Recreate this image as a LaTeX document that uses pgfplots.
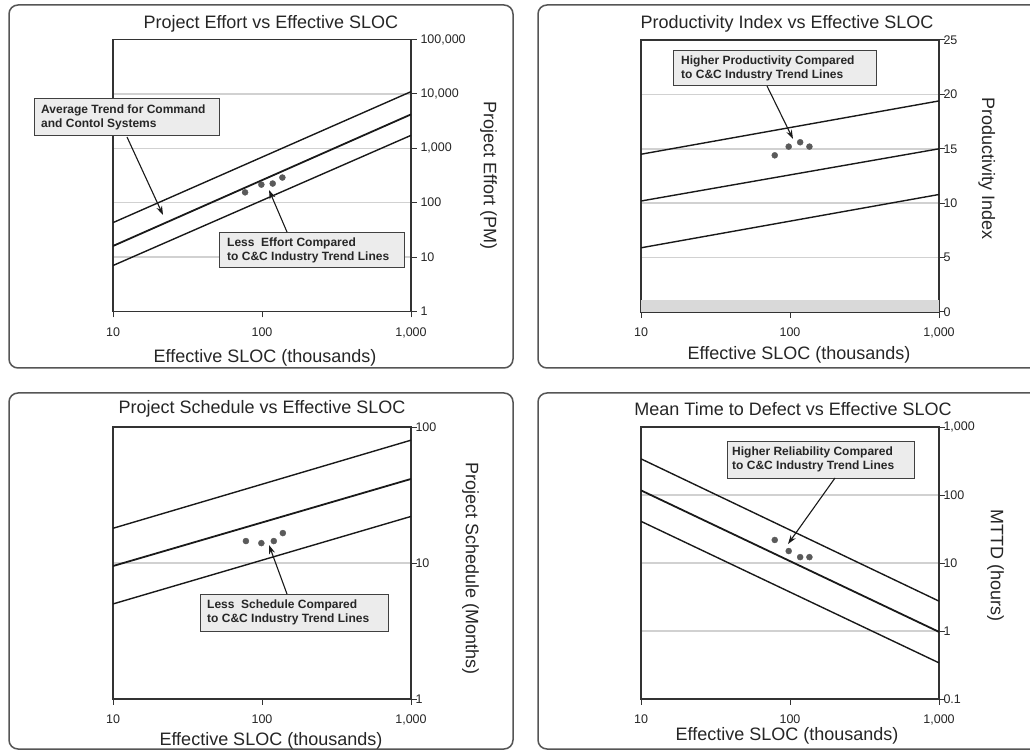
\documentclass[border=0pt]{standalone}
\usepackage{fontspec}
\setmainfont{Liberation Sans}
\usepackage{pgfplots}
\pgfplotsset{compat=1.18}
\usetikzlibrary{arrows.meta}
\definecolor{frame}{HTML}{555555}
\definecolor{boxfill}{HTML}{ECECEC}
\definecolor{dotc}{HTML}{5A5A5A}
\pgfplotsset{
  mypanel/.style={
    scale only axis, width=298pt, height=272pt, anchor=south west,
    xmin=10, xmax=1000,
    xtick={10,100,1000}, xticklabels={10,100,{1,000}},
    xminorticks=false, yminorticks=false,
    xtick pos=left, ytick pos=right, yticklabel pos=right,
    tick align=outside, major tick length=6pt,
    axis line style={line width=1.6pt, black!80},
    tick style={line width=1pt, black!80},
    ymajorgrids, grid style={line width=1.5pt, black!18},
    tick label style={font=\fontsize{12.5}{14}\selectfont, text=black!85},
    xticklabel style={yshift=-6.5pt},
    label style={font=\fontsize{18}{20}\selectfont, text=black!85},
    every axis title shift=0pt,
    title style={font=\fontsize{18}{20}\selectfont, text=black!85, anchor=center},
    xlabel style={anchor=center},
    ylabel style={anchor=center, rotate=180},
  },
  trend/.style={black!90, line width=1.4pt},
  trendm/.style={black!90, line width=1.8pt},
  dots/.style={only marks, mark=*, mark size=3pt, color=dotc, mark options={fill=dotc, draw=dotc}},
}
\tikzset{
  note/.style={draw=black!75, fill=boxfill, line width=1pt},
  notetext/.style={anchor=west, align=left, font=\fontsize{12}{14}\selectfont\bfseries, text=black!85, inner sep=0pt},
  arr/.style={-{Stealth[length=9pt,width=6pt]}, line width=1.1pt, black!90},
}
\begin{document}
\begin{tikzpicture}[x=1pt,y=1pt]
\useasboundingbox (0,0) rectangle (1030,753);
\fill[white] (0,0) rectangle (1030,753);
\begin{scope}[shift={(0pt,753pt)}, x=1pt, y=-1pt]
  \draw[frame, line width=1.5pt, rounded corners=9pt] (9,5) rectangle (513,368);
  \draw[frame, line width=1.5pt, rounded corners=9pt] (538,5) rectangle (1045,368);
  \draw[frame, line width=1.5pt, rounded corners=9pt] (9,393) rectangle (513,749);
  \draw[frame, line width=1.5pt, rounded corners=9pt] (538,393) rectangle (1045,749);
\end{scope}

% Panel 1
\begin{axis}[xmode=log, ymode=log, mypanel, at={(113pt,441.5pt)},
  ymin=1, ymax=100000,
  ytick={1,10,100,1000,10000,100000},
  yticklabels={1,10,100,{1,000},{10,000},{100,000}},
  title={Project Effort vs Effective SLOC},
  title style={at={(axis description cs:0.53,1.059)}},
  xlabel={Effective SLOC (thousands)},
  xlabel style={at={(axis description cs:0.51,-0.169)}},
  ylabel={Project Effort (PM)},
  ylabel style={at={(axis description cs:1.26,0.5)}}]
  \addplot[trend] coordinates {(10,43) (1000,11000)};
  \addplot[trendm] coordinates {(10,16) (1000,4200)};
  \addplot[trend] coordinates {(10,7) (1000,1730)};
  \addplot[dots] coordinates {(77,155) (99,215) (118,225) (137,290)};
\end{axis}

% Panel 2
\begin{axis}[xmode=log, mypanel, at={(641pt,441pt)},
  ymin=0, ymax=25, ytick={0,5,10,15,20,25},
  yticklabels={0,5,10,15,20,25},
  yticklabel style={xshift=-5pt},
  title={Productivity Index vs Effective SLOC},
  title style={at={(axis description cs:0.49,1.06)}},
  xlabel={Effective SLOC (thousands)},
  xlabel style={at={(axis description cs:0.53,-0.158)}},
  ylabel={Productivity Index},
  ylabel style={at={(axis description cs:1.16,0.527)}}]
  \fill[black!15] (axis cs:10,0) rectangle (axis cs:1000,1.1);
  \addplot[trend] coordinates {(10,14.5) (1000,19.4)};
  \addplot[trend] coordinates {(10,10.2) (1000,15.0)};
  \addplot[trend] coordinates {(10,5.9) (1000,10.8)};
  \addplot[dots] coordinates {(79,14.4) (98,15.2) (117,15.6) (135,15.2)};
\end{axis}

% Panel 3
\begin{axis}[xmode=log, ymode=log, mypanel, at={(113pt,54pt)},
  ymin=1, ymax=100, ytick={1,10,100},
  yticklabels={1,10,100},
  yticklabel style={xshift=-5pt},
  title={Project Schedule vs Effective SLOC},
  title style={at={(axis description cs:0.50,1.066)}},
  xlabel={Effective SLOC (thousands)},
  xlabel style={at={(axis description cs:0.53,-0.154)}},
  ylabel={Project Schedule (Months)},
  ylabel style={at={(axis description cs:1.20,0.48)}}]
  \addplot[trend] coordinates {(10,18) (1000,80)};
  \addplot[trendm] coordinates {(10,9.5) (1000,41.5)};
  \addplot[trend] coordinates {(10,5.0) (1000,22)};
  \addplot[dots] coordinates {(78,14.5) (99,14.0) (120,14.5) (138,16.6)};
\end{axis}

% Panel 4
\begin{axis}[xmode=log, ymode=log, mypanel, at={(641pt,54pt)},
  ymin=0.1, ymax=1000, ytick={0.1,1,10,100,1000},
  yticklabels={0.1,1,10,100,{1,000}},
  yticklabel style={xshift=-5pt},
  title={Mean Time to Defect vs Effective SLOC},
  title style={at={(axis description cs:0.51,1.066)}},
  xlabel={Effective SLOC (thousands)},
  xlabel style={at={(axis description cs:0.49,-0.136)}},
  ylabel={MTTD (hours)},
  ylabel style={at={(axis description cs:1.19,0.49)}}]
  \addplot[trend] coordinates {(10,340) (1000,2.75)};
  \addplot[trendm] coordinates {(10,117) (1000,0.97)};
  \addplot[trend] coordinates {(10,41) (1000,0.34)};
  \addplot[dots] coordinates {(79,21.8) (98,15) (117,12.2) (135,12.2)};
\end{axis}

\begin{scope}[shift={(0pt,753pt)}, x=1pt, y=-1pt]
  % Panel 1 notes
  \draw[note] (34,99) rectangle (219,136);
  \node[notetext] at (41,117.5) {Average Trend for Command\\and Contol Systems};
  \draw[arr] (127,137) -- (163,215);
  \draw[note] (219,233) rectangle (404,268);
  \node[notetext] at (227,250.5) {Less\ \ Effort Compared\\to C\&C Industry Trend Lines};
  \draw[arr] (287,232) -- (269,190);
  % Panel 2 note
  \draw[note] (673,51) rectangle (876,86);
  \node[notetext] at (681,68.5) {Higher Productivity Compared\\to C\&C Industry Trend Lines};
  \draw[arr] (767,86) -- (793,139);
  % Panel 3 note
  \draw[note] (200,594) rectangle (388,631);
  \node[notetext] at (207,612.5) {Less\ \ Schedule Compared\\to C\&C Industry Trend Lines};
  \draw[arr] (287,594) -- (269,545);
  % Panel 4 note
  \draw[note] (727,441) rectangle (914,478);
  \node[notetext] at (732,459.5) {Higher Reliability Compared\\to C\&C Industry Trend Lines};
  \draw[arr] (835,478) -- (788,544);
\end{scope}
\end{tikzpicture}
\end{document}
